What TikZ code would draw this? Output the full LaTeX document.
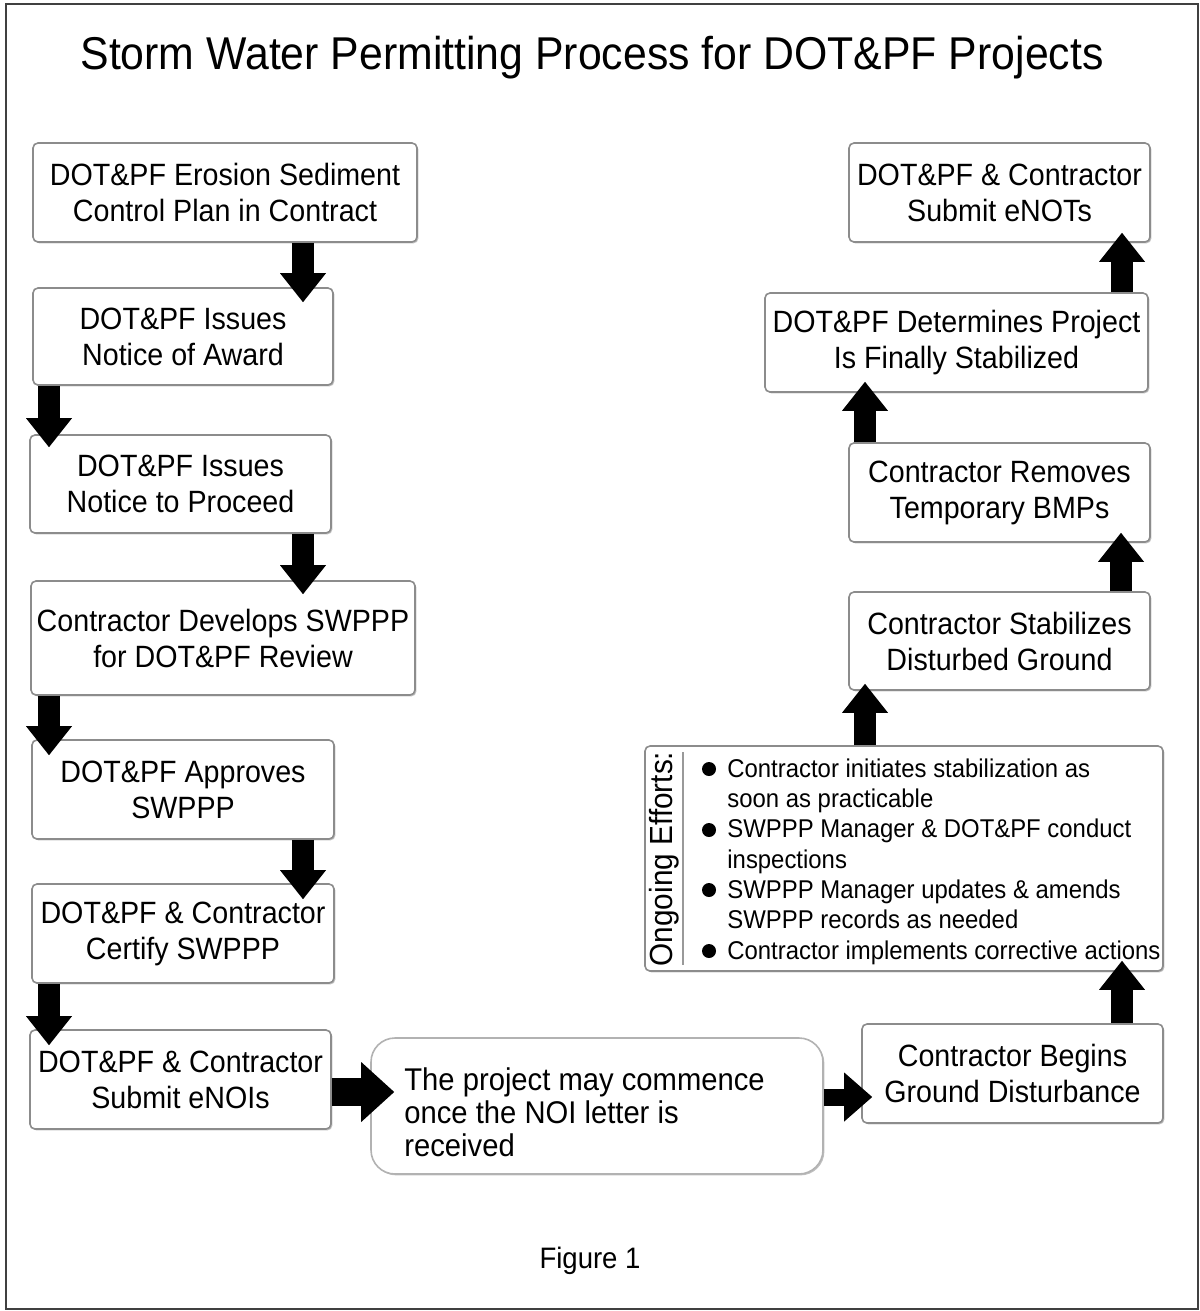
\documentclass[tikz,border=0pt]{standalone}
\usepackage{fontspec}
\setmainfont{Liberation Sans}[FakeStretch=0.93]
\usetikzlibrary{arrows.meta,shadows}
\begin{document}
\begin{tikzpicture}[x=0.5pt,y=-0.5pt,
  box/.style={draw=black!45, line width=0.8pt, fill=white, rounded corners=2.5pt, inner sep=0pt, align=center,
    font=\fontsize{15.4}{18}\selectfont,
    drop shadow={shadow xshift=0.7pt, shadow yshift=-0.7pt, opacity=0.25, fill=black}},
  blk/.style={draw=black, line width=11pt, -{Triangle[width=23pt,length=14.5pt,line width=0pt]}},
  blkL/.style={draw=black, line width=14pt, -{Triangle[width=30pt,length=16.5pt,line width=0pt]}},
  blkS/.style={draw=black, line width=8.5pt, -{Triangle[width=24.5pt,length=14pt,line width=0pt]}},
  etxt/.style={anchor=base west, inner sep=0pt, font=\fontsize{12.85}{15}\selectfont},
  bul/.style={circle, fill=black, inner sep=0pt, minimum size=7pt}
]
\useasboundingbox (0,0) rectangle (1199,1311);
\draw[black!75, line width=1pt] (6,4) rectangle (1198,1309);

\node[anchor=base, inner sep=0pt, font=\fontsize{23}{28}\selectfont] (title) at (592,70) {Storm Water Permitting Process for DOT\&PF Projects};
\node[anchor=base, inner sep=0pt, font=\fontsize{14.8}{18}\selectfont] (fig) at (590,1268) {Figure 1};

% left column
\node[box, minimum width=192pt, minimum height=49.5pt] (b1) at (225,192.5) {DOT\&PF Erosion Sediment\\Control Plan in Contract};
\node[box, minimum width=150pt, minimum height=48.5pt] (b2) at (183,336.5) {DOT\&PF Issues\\Notice of Award};
\node[box, minimum width=150.5pt, minimum height=49pt] (b3) at (180.5,484) {DOT\&PF Issues\\Notice to Proceed};
\node[box, minimum width=192pt, minimum height=57pt] (b4) at (223,638) {Contractor Develops SWPPP\\for DOT\&PF Review};
\node[box, minimum width=151pt, minimum height=49.5pt] (b5) at (183,789.5) {DOT\&PF Approves\\SWPPP};
\node[box, minimum width=151pt, minimum height=49.5pt] (b6) at (183,933.5) {DOT\&PF \& Contractor\\Certify SWPPP};
\node[box, minimum width=150.5pt, minimum height=49.5pt] (b7) at (180.5,1079.5) {DOT\&PF \& Contractor\\Submit eNOIs};

% middle
\node[box, draw=black!30, rounded corners=12pt, minimum width=226pt, minimum height=68pt] (mid) at (597,1106) {};
\node[anchor=west, inner sep=0pt, align=left, font=\fontsize{15.7}{16.5}\selectfont] (midtxt) at (404,1112) {The project may commence\\once the NOI letter is\\received};

% right column
\node[box, minimum width=150.5pt, minimum height=49.5pt] (b8) at (1012.5,1073.5) {Contractor Begins\\Ground Disturbance};
\node[box, minimum width=259pt, minimum height=112.5pt] (oe) at (904,858.5) {};
\node[box, minimum width=150.5pt, minimum height=49pt] (b9) at (999.5,641) {Contractor Stabilizes\\Disturbed Ground};
\node[box, minimum width=150.5pt, minimum height=49.5pt] (b10) at (999.5,492.5) {Contractor Removes\\Temporary BMPs};
\node[box, minimum width=191.5pt, minimum height=49.5pt] (b11) at (956.5,342.5) {DOT\&PF Determines Project\\Is Finally Stabilized};
\node[box, minimum width=150.5pt, minimum height=49.5pt] (b12) at (999.5,192.5) {DOT\&PF \& Contractor\\Submit eNOTs};

% ongoing efforts content
\node[rotate=90, inner sep=0pt, font=\fontsize{16}{18}\selectfont] (oelab) at (664,859) {Ongoing Efforts:};
\draw[black!40, line width=0.6pt] (683,752) -- (683,965);
\node[bul] (d1) at (709,769) {};
\node[bul] (d2) at (709,830) {};
\node[bul] (d3) at (709,890) {};
\node[bul] (d4) at (709,951) {};
\node[etxt] (e1a) at (727,777) {Contractor initiates stabilization as};
\node[etxt] (e1b) at (727,807.3) {soon as practicable};
\node[etxt] (e2a) at (727,837.6) {SWPPP Manager \& DOT\&PF conduct};
\node[etxt] (e2b) at (727,868) {inspections};
\node[etxt] (e3a) at (727,898) {SWPPP Manager updates \& amends};
\node[etxt] (e3b) at (727,928.5) {SWPPP records as needed};
\node[etxt] (e4a) at (727,959) {Contractor implements corrective actions};

% arrows
\draw[blk] ([xshift=39pt]b1.south) -- ([xshift=60pt,yshift=-7.5pt]b2.north);
\draw[blk] ([xshift=-67pt]b2.south) -- ([xshift=-65.75pt,yshift=-6.5pt]b3.north);
\draw[blk] ([xshift=61.25pt]b3.south) -- ([xshift=40pt,yshift=-7pt]b4.north);
\draw[blk] ([xshift=-87pt]b4.south) -- ([xshift=-67pt,yshift=-8pt]b5.north);
\draw[blk] ([xshift=60pt]b5.south) -- ([xshift=60pt,yshift=-8pt]b6.north);
\draw[blk] ([xshift=-67pt]b6.south) -- ([xshift=-65.75pt,yshift=-8pt]b7.north);
\draw[blkL] ([yshift=-6.25pt]b7.east) -- ([xshift=12pt,yshift=7pt]mid.west);
\draw[blkS] ([yshift=4.5pt]mid.east) -- ([xshift=5.5pt,yshift=-11.75pt]b8.west);
\draw[blk] ([xshift=54.75pt]b8.north) -- ([xshift=109pt,yshift=5.5pt]oe.south);
\draw[blk] ([xshift=-19.5pt]oe.north) -- ([xshift=-67.25pt,yshift=3.5pt]b9.south);
\draw[blk] ([xshift=60.75pt]b9.north) -- ([xshift=60.75pt,yshift=5pt]b10.south);
\draw[blk] ([xshift=-67.25pt]b10.north) -- ([xshift=-45.75pt,yshift=5.5pt]b11.south);
\draw[blk] ([xshift=82.75pt]b11.north) -- ([xshift=61.25pt,yshift=5pt]b12.south);
\end{tikzpicture}
\end{document}
